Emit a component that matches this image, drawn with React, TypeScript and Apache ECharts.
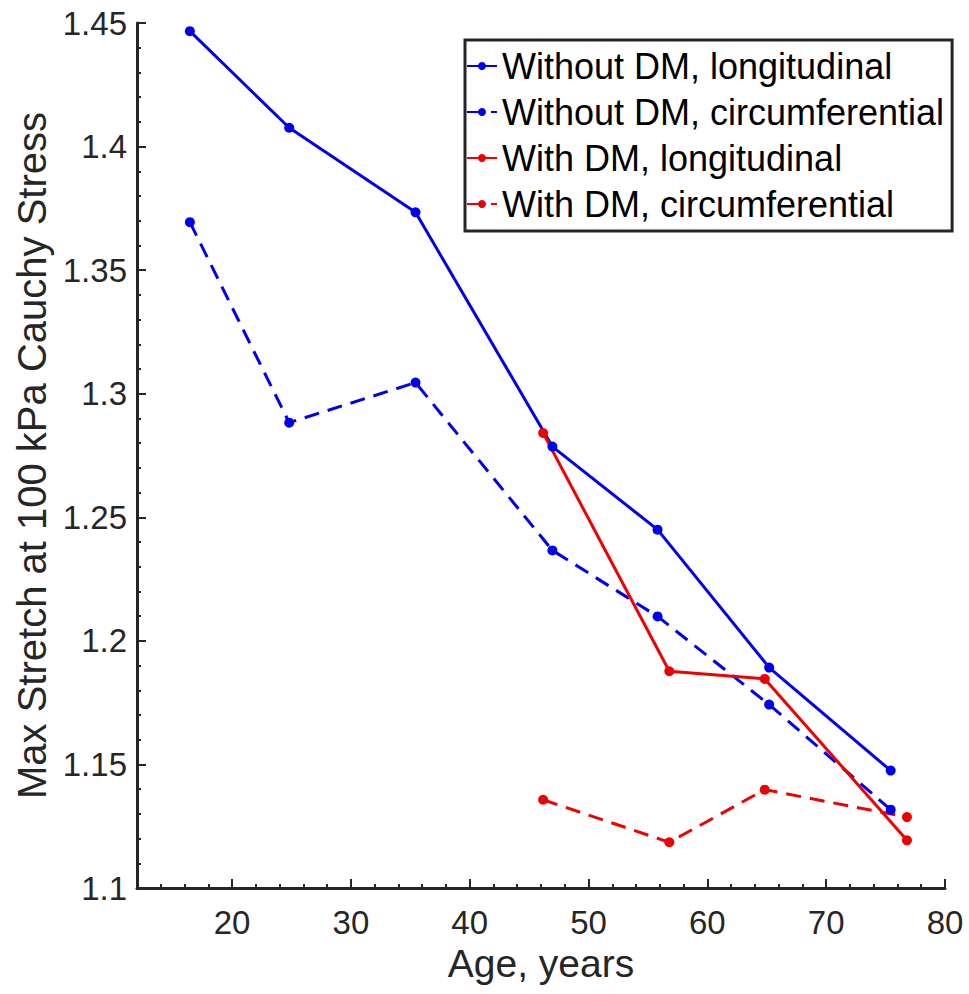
import React, { useEffect, useRef } from "react";
import * as echarts from "echarts";

// Ages (years)
const agesWithoutDM = [16.45, 24.81, 35.44, 46.96, 55.81, 65.2, 75.43];
const agesWithDM = [46.18, 56.8, 64.83, 76.8];

// Max stretch at 100 kPa Cauchy stress
const withoutDMLongitudinal = [1.4467, 1.4076, 1.3734, 1.2786, 1.245, 1.1892, 1.1475];
const withoutDMCircumferential = [1.3694, 1.2883, 1.3045, 1.2366, 1.2099, 1.1742, 1.1317];
const withDMLongitudinal = [1.2841, 1.1877, 1.1846, 1.1193];
const withDMCircumferential = [1.1357, 1.1185, 1.1398, 1.1287];

const seriesNames = [
  "Without DM, longitudinal",
  "Without DM, circumferential",
  "With DM, longitudinal",
  "With DM, circumferential",
];

const xTickLabels = [20, 30, 40, 50, 60, 70, 80];

const FONT = '"Liberation Sans", Arial, Helvetica, sans-serif';
const AXIS_COLOR = "#262626";
const BLUE = "#0000f0";
const RED = "#f00000";

function pairs(xs: number[], ys: number[]) {
  return xs.map((x, i) => [x, ys[i]]);
}

export default function App() {
  const ref = useRef<HTMLDivElement>(null);

  useEffect(() => {
    if (!ref.current) return;
    const chart = echarts.init(ref.current, null, { renderer: "svg" });

    const mkSeries = (name: string, data: number[][], color: string, dashed: boolean) => ({
      name,
      type: "line",
      xAxisIndex: 0,
      yAxisIndex: 0,
      data,
      symbol: "circle",
      symbolSize: 10,
      showSymbol: true,
      itemStyle: { color },
      lineStyle: { color, width: 3, type: dashed ? [15, 9] : "solid" },
      emphasis: { disabled: true },
    });

    chart.setOption({
      animation: false,
      backgroundColor: "#ffffff",
      grid: { left: 137, top: 23, width: 808, height: 865, containLabel: false },
      legend: {
        orient: "vertical",
        left: 465,
        top: 40,
        padding: [8, 8, 9, 1],
        itemGap: 10,
        itemWidth: 30,
        itemHeight: 10,
        borderColor: AXIS_COLOR,
        borderWidth: 3,
        backgroundColor: "#ffffff",
        textStyle: { fontSize: 36, color: "#000", fontFamily: FONT },
        data: seriesNames,
      },
      xAxis: [
        {
          type: "value",
          min: 12,
          max: 80,
          position: "bottom",
          name: "Age, years",
          nameLocation: "middle",
          nameGap: 54,
          nameTextStyle: { fontSize: 39, color: AXIS_COLOR, fontFamily: FONT },
          axisLine: { show: true, onZero: false, lineStyle: { color: AXIS_COLOR, width: 3 } },
          axisTick: {
            show: true,
            inside: true,
            length: 9,
            customValues: xTickLabels,
            lineStyle: { color: AXIS_COLOR, width: 2 },
          },
          axisLabel: {
            show: true,
            customValues: xTickLabels,
            fontSize: 33,
            color: AXIS_COLOR,
            fontFamily: FONT,
            margin: 18,
          },
          splitLine: { show: false },
        },
        {
          type: "value",
          min: 12,
          max: 80,
          interval: 2,
          position: "bottom",
          axisLine: { show: false },
          axisTick: { show: true, inside: true, length: 4, lineStyle: { color: AXIS_COLOR, width: 2 } },
          axisLabel: { show: false },
          splitLine: { show: false },
        },
      ],
      yAxis: {
        type: "value",
        min: 1.1,
        max: 1.45,
        interval: 0.05,
        name: "Max Stretch at 100 kPa Cauchy Stress",
        nameLocation: "middle",
        nameGap: 82,
        nameTextStyle: { fontSize: 40, color: AXIS_COLOR, fontFamily: FONT },
        axisLine: { show: true, onZero: false, lineStyle: { color: AXIS_COLOR, width: 3 } },
        axisTick: { show: true, inside: true, length: 9, lineStyle: { color: AXIS_COLOR, width: 2 } },
        minorTick: { show: true, splitNumber: 5, length: 4, lineStyle: { color: AXIS_COLOR, width: 2 } },
        axisLabel: {
          fontSize: 33,
          color: AXIS_COLOR,
          fontFamily: FONT,
          margin: 10,
        },
        splitLine: { show: false },
        minorSplitLine: { show: false },
      },
      series: [
        mkSeries(seriesNames[0], pairs(agesWithoutDM, withoutDMLongitudinal), BLUE, false),
        mkSeries(seriesNames[1], pairs(agesWithoutDM, withoutDMCircumferential), BLUE, true),
        mkSeries(seriesNames[2], pairs(agesWithDM, withDMLongitudinal), RED, false),
        mkSeries(seriesNames[3], pairs(agesWithDM, withDMCircumferential), RED, true),
      ],
    });

    return () => chart.dispose();
  }, []);

  return (
    <div
      ref={ref}
      style={{ position: "fixed", left: 0, top: 0, width: 969, height: 994, background: "#fff" }}
    />
  );
}
